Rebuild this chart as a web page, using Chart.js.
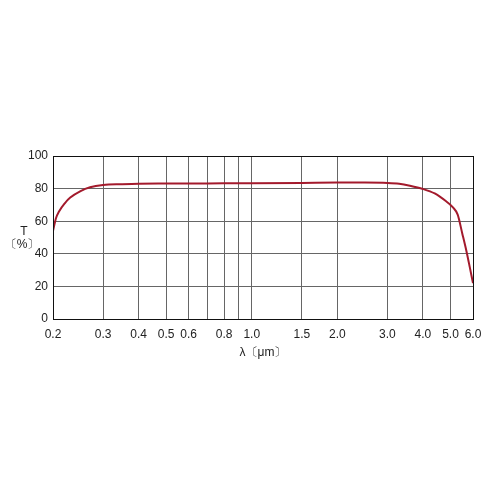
<!DOCTYPE html>
<html lang="en">
<head>
  <meta charset="UTF-8" />
  <title>Transmittance</title>
  <script src="https://cdn.jsdelivr.net/npm/chart.js"></script>
  <style>
    body { margin: 0; background: #fff; }
    #box { width: 500px; height: 500px; }
  </style>
</head>
<body>
<div id="box"><canvas id="chart"></canvas></div>
<script>
const wavelength = [0.2, 0.205, 0.21, 0.22, 0.23, 0.25, 0.27, 0.3, 0.35, 0.4, 0.5, 0.7, 1.0, 1.5, 2.0, 2.5, 3.0, 3.3, 3.6, 4.0, 4.4, 4.8, 5.1, 5.3, 5.5, 5.7, 5.85, 6.0];
const transmittance = [54, 62, 66, 71, 74.5, 78.5, 80.8, 82.2, 82.7, 83, 83.1, 83.2, 83.3, 83.5, 83.7, 83.7, 83.5, 83, 81.8, 79.8, 77, 72.5, 68.5, 64, 52.5, 41, 31.5, 22];
const xTicks = [0.2, 0.3, 0.4, 0.5, 0.6, 0.7, 0.8, 0.9, 1.0, 1.5, 2.0, 3.0, 4.0, 5.0, 6.0];
const xHidden = [0.7, 0.9];
const yTicks = [0, 20, 40, 60, 80, 100];

const font = { family: "Liberation Sans, Arial, sans-serif", size: 12 };

// frame and the horizontal "T (%)" label
const frame = {
  id: "frame",
  afterDraw(chart) {
    const { ctx, chartArea: a } = chart;
    ctx.save();
    ctx.strokeStyle = "#111";
    ctx.lineWidth = 1;
    ctx.strokeRect(a.left + 0.5, a.top + 0.5, a.right - a.left, a.bottom - a.top);
    ctx.fillStyle = "#222";
    ctx.font = "12px Liberation Sans, Arial, sans-serif";
    ctx.textAlign = "center";
    ctx.fillText("T", 24, 235);
    ctx.fillText("〔%〕", 22, 248);
    ctx.restore();
  }
};

new Chart(document.getElementById("chart"), {
  type: "line",
  data: {
    datasets: [{
      data: wavelength.map((w, i) => ({ x: w, y: transmittance[i] })),
      borderColor: "#a31a2c",
      borderWidth: 2,
      pointRadius: 0,
      cubicInterpolationMode: "monotone",
      fill: false
    }]
  },
  options: {
    responsive: true,
    maintainAspectRatio: false,
    animation: false,
    layout: { padding: { top: 156, right: 27, bottom: 136, left: 0 } },
    plugins: { legend: { display: false }, tooltip: { enabled: false } },
    scales: {
      x: {
        type: "logarithmic",
        min: 0.2,
        max: 6.0,
        afterBuildTicks: s => { s.ticks = xTicks.map(v => ({ value: v })); },
        afterFit: s => { s.height = 45; },
        grid: { color: "#666", drawTicks: false },
        border: { color: "#111" },
        ticks: {
          autoSkip: false,
          maxRotation: 0,
          padding: 8,
          color: "#222",
          font: font,
          callback: v => xHidden.includes(v) ? "" : v.toFixed(1)
        },
        title: { display: true, text: "λ〔μm〕", color: "#222", font: font, padding: { top: 2, bottom: 4 } }
      },
      y: {
        min: 0,
        max: 100,
        afterBuildTicks: s => { s.ticks = yTicks.map(v => ({ value: v })); },
        afterFit: s => { s.width = 53; },
        grid: { color: "#666", drawTicks: false },
        border: { color: "#111" },
        ticks: { padding: 5, color: "#222", font: font }
      }
    }
  },
  plugins: [frame]
});
</script>
</body>
</html>
